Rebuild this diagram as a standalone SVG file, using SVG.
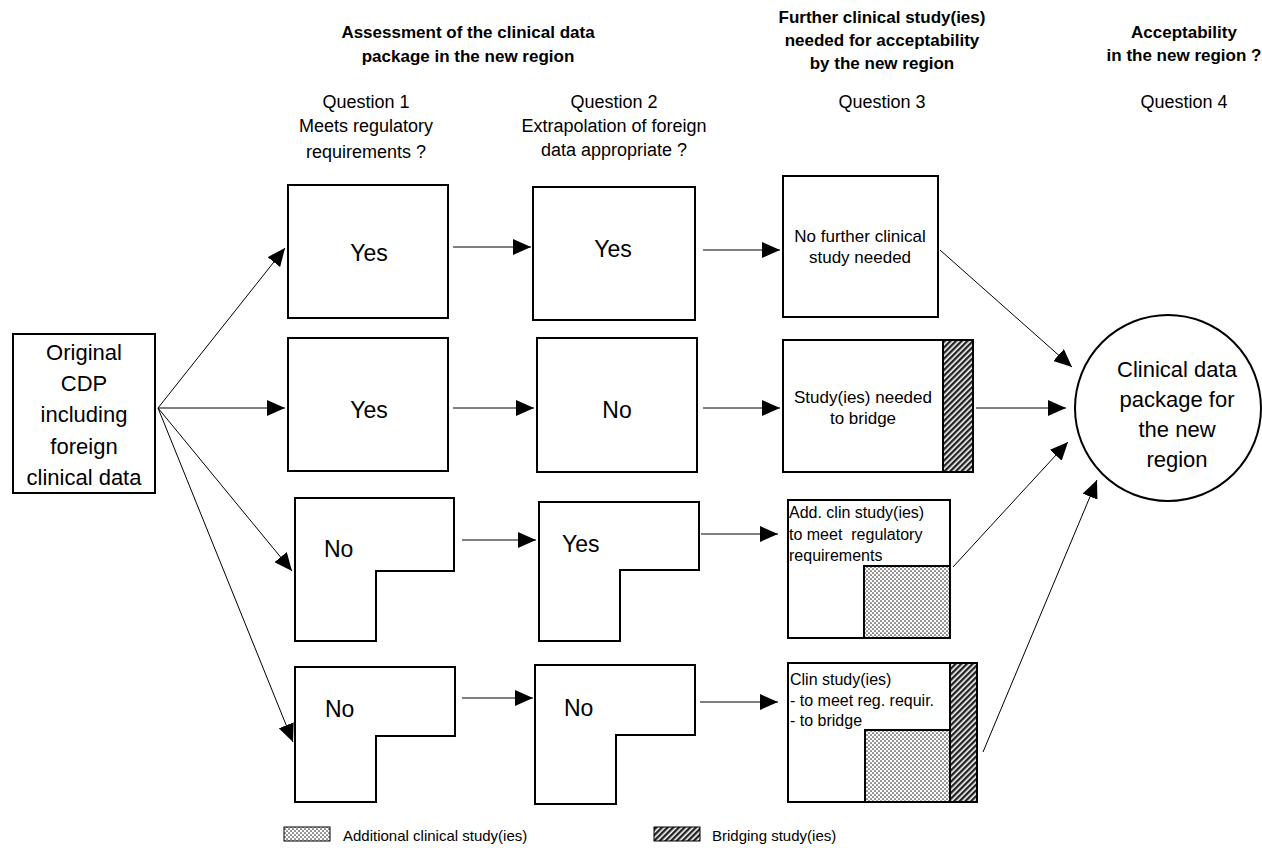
<svg xmlns="http://www.w3.org/2000/svg" width="1262" height="857" viewBox="0 0 1262 857">
<defs>
<pattern id="dots" width="4" height="4" patternUnits="userSpaceOnUse">
<rect width="4" height="4" fill="#fff"/>
<circle cx="1" cy="1" r="0.85" fill="#333"/>
<circle cx="3" cy="3" r="0.85" fill="#333"/>
</pattern>
<pattern id="hatch" width="4" height="4" patternUnits="userSpaceOnUse" patternTransform="rotate(-45)">
<rect width="4" height="4" fill="#fff"/>
<rect width="4" height="2.4" fill="#222"/>
</pattern>
<marker id="ah" markerWidth="18" markerHeight="16" refX="18" refY="8" orient="auto" markerUnits="userSpaceOnUse">
<path d="M0,0 L18,8 L0,16 Z" fill="#000"/>
</marker>
</defs>
<style>
text{font-family:"Liberation Sans",Arial,sans-serif;fill:#000}
.h{font-weight:bold;font-size:17px;text-anchor:middle}
.q{font-size:18px;text-anchor:middle}
.big{font-size:22px;text-anchor:middle}
.yn{font-size:23px}
.ync{font-size:23px;text-anchor:middle}
.sm{font-size:16px}
.smc{font-size:17px;text-anchor:middle}
.leg{font-size:15px}
.box{fill:#fff;stroke:#000;stroke-width:2}
.con{stroke:#000;stroke-width:1;fill:none}
</style>
<rect width="1262" height="857" fill="#fff"/>

<g id="headers">
<text class="h" x="468" y="38">Assessment of the clinical data</text>
<text class="h" x="468" y="62">package in the new region</text>
<text class="h" x="882" y="23">Further clinical study(ies)</text>
<text class="h" x="882" y="46">needed for acceptability</text>
<text class="h" x="882" y="69">by the new region</text>
<text class="q" x="882" y="108">Question 3</text>
<text class="h" x="1184" y="38">Acceptability</text>
<text class="h" x="1184" y="61">in the new region ?</text>
<text class="q" x="1184" y="108">Question 4</text>
<text class="q" x="366" y="108">Question 1</text>
<text class="q" x="366" y="132">Meets regulatory</text>
<text class="q" x="366" y="158">requirements ?</text>
<text class="q" x="614" y="108">Question 2</text>
<text class="q" x="614" y="132">Extrapolation of foreign</text>
<text class="q" x="614" y="156">data appropriate ?</text>
</g>

<g id="origin">
<rect class="box" x="13" y="334" width="142" height="159"/>
<text class="big" x="84" y="360">Original</text>
<text class="big" x="84" y="391">CDP</text>
<text class="big" x="84" y="422">including</text>
<text class="big" x="84" y="454">foreign</text>
<text class="big" x="84" y="485">clinical data</text>
</g>

<g id="q1-row1">
<rect class="box" x="288" y="185" width="160" height="133"/>
<text class="ync" x="369" y="261">Yes</text>
</g>
<g id="q2-row1">
<rect class="box" x="533" y="187" width="162" height="133"/>
<text class="ync" x="613" y="257">Yes</text>
</g>
<g id="q3-row1">
<rect class="box" x="783" y="176" width="155" height="141"/>
<text class="smc" x="860" y="242">No further clinical</text>
<text class="smc" x="860" y="263">study needed</text>
</g>

<g id="q1-row2">
<rect class="box" x="288" y="338" width="160" height="133"/>
<text class="ync" x="369" y="418">Yes</text>
</g>
<g id="q2-row2">
<rect class="box" x="537" y="338" width="160" height="134"/>
<text class="ync" x="617" y="418">No</text>
</g>
<g id="q3-row2">
<rect class="box" x="783" y="340" width="160" height="132"/>
<rect x="943" y="340" width="30" height="132" fill="url(#hatch)" stroke="#000" stroke-width="2"/>
<text class="smc" x="863" y="403">Study(ies) needed</text>
<text class="smc" x="863" y="424">to bridge</text>
</g>

<g id="q1-row3">
<path class="box" d="M295,498 H454 V571 H376 V641 H295 Z"/>
<text class="yn" x="324" y="557">No</text>
</g>
<g id="q2-row3">
<path class="box" d="M539,502 H699 V570 H620 V641 H539 Z"/>
<text class="yn" x="562" y="552">Yes</text>
</g>
<g id="q3-row3">
<rect class="box" x="788" y="500" width="162" height="138"/>
<rect x="864" y="566" width="86" height="72" fill="url(#dots)" stroke="#000" stroke-width="2"/>
<text class="sm" x="789" y="518">Add. clin study(ies)</text>
<text class="sm" x="789" y="540" xml:space="preserve">to meet  regulatory</text>
<text class="sm" x="789" y="561">requirements</text>
</g>

<g id="q1-row4">
<path class="box" d="M295,667 H455 V736 H376 V802 H295 Z"/>
<text class="yn" x="325" y="717">No</text>
</g>
<g id="q2-row4">
<path class="box" d="M535,665 H695 V735 H616 V804 H535 Z"/>
<text class="yn" x="564" y="716">No</text>
</g>
<g id="q3-row4">
<rect class="box" x="788" y="663" width="162" height="139"/>
<rect x="865" y="730" width="85" height="72" fill="url(#dots)" stroke="#000" stroke-width="2"/>
<rect x="950" y="663" width="27" height="139" fill="url(#hatch)" stroke="#000" stroke-width="2"/>
<text class="sm" x="790" y="685">Clin study(ies)</text>
<text class="sm" x="790" y="706">- to meet reg. requir.</text>
<text class="sm" x="790" y="726">- to bridge</text>
</g>

<g id="target">
<circle cx="1168" cy="408" r="93" fill="#fff" stroke="#000" stroke-width="2"/>
<text class="big" x="1177" y="377">Clinical data</text>
<text class="big" x="1177" y="407">package for</text>
<text class="big" x="1177" y="437">the new</text>
<text class="big" x="1177" y="467">region</text>
</g>

<g id="connectors">
<line class="con" x1="158" y1="408" x2="285" y2="248" marker-end="url(#ah)"/>
<line class="con" x1="158" y1="408" x2="285" y2="408" marker-end="url(#ah)"/>
<line class="con" x1="158" y1="408" x2="292" y2="571" marker-end="url(#ah)"/>
<line class="con" x1="158" y1="408" x2="293" y2="742" marker-end="url(#ah)"/>
<line class="con" x1="453" y1="247" x2="531" y2="247" marker-end="url(#ah)"/>
<line class="con" x1="703" y1="250" x2="780" y2="250" marker-end="url(#ah)"/>
<line class="con" x1="453" y1="408" x2="534" y2="408" marker-end="url(#ah)"/>
<line class="con" x1="703" y1="408" x2="780" y2="408" marker-end="url(#ah)"/>
<line class="con" x1="462" y1="540" x2="536" y2="540" marker-end="url(#ah)"/>
<line class="con" x1="701" y1="534" x2="778" y2="534" marker-end="url(#ah)"/>
<line class="con" x1="462" y1="698" x2="533" y2="698" marker-end="url(#ah)"/>
<line class="con" x1="700" y1="702" x2="778" y2="702" marker-end="url(#ah)"/>
<line class="con" x1="940" y1="250" x2="1072" y2="367" marker-end="url(#ah)"/>
<line class="con" x1="976" y1="408" x2="1066" y2="408" marker-end="url(#ah)"/>
<line class="con" x1="953" y1="567" x2="1068" y2="442" marker-end="url(#ah)"/>
<line class="con" x1="983" y1="752" x2="1097" y2="480" marker-end="url(#ah)"/>
</g>

<g id="legend">
<rect x="284" y="827" width="46" height="14" fill="url(#dots)" stroke="#000" stroke-width="1"/>
<text class="leg" x="343" y="841">Additional clinical study(ies)</text>
<rect x="654" y="827" width="46" height="14" fill="url(#hatch)" stroke="#000" stroke-width="1"/>
<text class="leg" x="712" y="841">Bridging study(ies)</text>
</g>
</svg>
